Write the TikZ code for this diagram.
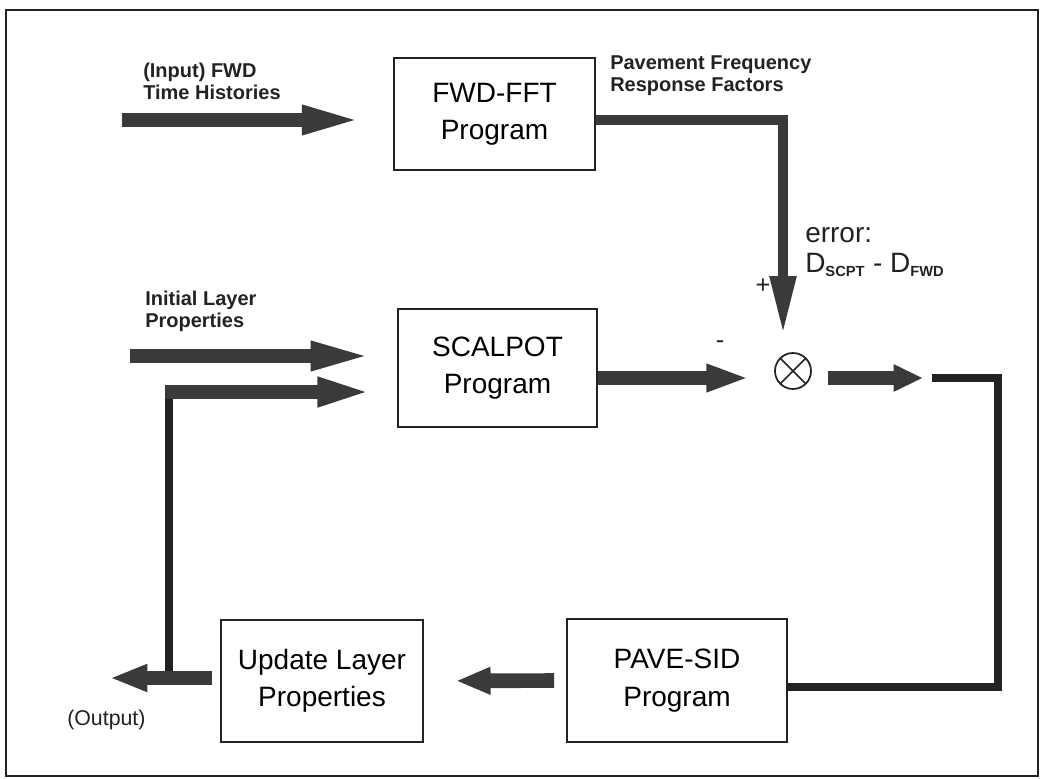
\documentclass[tikz,border=0pt]{standalone}
\usepackage{fontspec}
\setmainfont{Liberation Sans}
\usepackage{tikz}
\usetikzlibrary{positioning,arrows.meta,calc}
\definecolor{shaftgray}{HTML}{3A3A3A}
\definecolor{inkblack}{HTML}{222222}
\tikzset{
    every node/.style={font=\small},
    progbox/.style={draw=inkblack,line width=1.3pt,inner sep=0pt,align=center,font=\fontsize{21}{28}\selectfont},
    flowlabel/.style={anchor=west,align=left,inner sep=0pt,text=inkblack,font=\fontsize{15}{16.5}\bfseries},
    signlabel/.style={inner sep=0pt,text=inkblack,font=\fontsize{19}{19}\selectfont},
    sumjunction/.style={circle,draw=inkblack,line width=1.3pt,minimum size=27pt,inner sep=0pt,
        path picture={\draw[inkblack,line width=1.3pt] (path picture bounding box.south west) -- (path picture bounding box.north east)
            (path picture bounding box.north west) -- (path picture bounding box.south east);}},
    fatarrow/.style={draw=shaftgray,line width=11pt,-{Triangle[length=#1,width=19pt]}},
    fatarrow/.default=40pt,
    droparrow/.style={draw=shaftgray,line width=8pt,-{Triangle[length=#1,width=18pt]}},
    thinpath/.style={draw=inkblack,line width=6.5pt}
}
\begin{document}
\begin{tikzpicture}[x=0.75pt,y=-0.75pt]
\useasboundingbox (0,0) rectangle (1042,778);
\draw[inkblack,line width=1.8pt] (6,10) rectangle (1038,776);

\node[progbox,minimum width=150.75pt,minimum height=84pt] (fft) at (494.5,114) {FWD-FFT\\Program};
\node[progbox,minimum width=149pt,minimum height=88.5pt] (scal) at (497.5,368) {SCALPOT\\Program};
\node[progbox,minimum width=151.5pt,minimum height=91.5pt] (upd) at (322,681) {Update Layer\\Properties};
\node[progbox,minimum width=165pt,minimum height=92pt] (pave) at (677,680.5) {PAVE-SID\\Program};
\node[sumjunction] (sum) at (793,371) {};

\node[flowlabel] (inlbl) at (143,81) {(Input) FWD\\Time Histories};
\node[flowlabel] (resplbl) at (610,76) {Pavement Frequency\\Response Factors};
\node[flowlabel] (initlbl) at (145,311) {Initial Layer\\Properties};
\node[anchor=west,align=left,inner sep=0pt,text=inkblack,font=\fontsize{21}{23}\selectfont] (errlbl) at (805,252)
    {error:\\D\textsubscript{\bfseries\fontsize{11}{11}\selectfont SCPT} - D\textsubscript{\bfseries\fontsize{11}{11}\selectfont FWD}};
\node[anchor=west,inner sep=0pt,text=inkblack,font=\fontsize{16}{16}\selectfont] (outlbl) at (67,720) {(Output)};
\node[signlabel] (plus) at (763,286) {+};
\node[signlabel] (minus) at (720,345) {-};

\coordinate (inA) at (122,120);
\coordinate (inB) at (130,356);
\coordinate (split) at (169,678);
\coordinate (fbk) at (169,392);
\coordinate (outTip) at (110,678);
\coordinate (loopA) at (923,378);
\coordinate (loopB) at (932,378);
\coordinate (loopC) at (998,687);

\draw[fatarrow=49pt,shorten >=19.5pt] (inA) -- (inA -| fft.west);
\draw[fatarrow=50pt,shorten >=15pt] (inB) -- (inB -| scal.west);
\draw[thinpath] (split) -- ($(fbk)+(0,-6)$);
\draw[fatarrow=45pt,shorten >=15pt] ($(fbk)+(-4,0)$) -- (fbk -| scal.west);
\draw[fatarrow=28pt,shorten <=6pt] (upd.west |- split) -- (outTip);
\draw[droparrow=45pt] ($(fft.east)+(0,6)$) -| ($(sum.north)+(-10,-16)$);
\draw[fatarrow=32pt] ($(scal.east)+(0,10)$) -- ($(sum.west)+(-25,7)$);
\draw[fatarrow=22pt] ($(sum.east)+(16,7)$) -- (loopA);
\draw[thinpath] (loopB) -| (loopC) -- (loopC -| pave.east);
\draw[fatarrow=26pt,shorten <=9pt,shorten >=24pt] (pave.west) -- (upd.east);
\end{tikzpicture}
\end{document}
